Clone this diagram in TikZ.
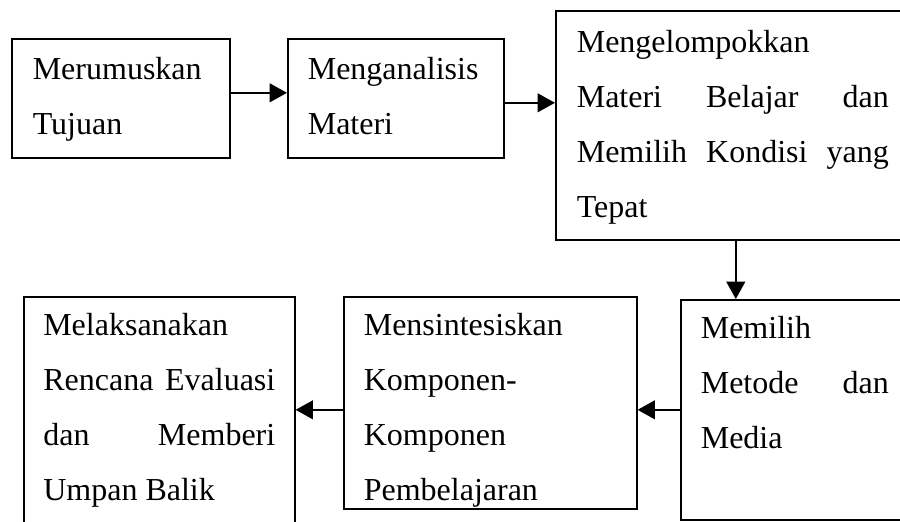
\documentclass[tikz,border=0pt]{standalone}
\usepackage{fontspec}
\setmainfont{Liberation Serif}
\usetikzlibrary{arrows.meta}

\begin{document}
\begin{tikzpicture}[x=0.375pt, y=-0.375pt,
  blok/.style={draw, line width=0.6pt, rectangle, anchor=north west, inner ysep=0pt,
    align=justify, font=\fontsize{12pt}{20.625pt}\selectfont},
  panah/.style={-{Triangle[length=6.5pt,width=7pt]}, line width=0.75pt}]
\useasboundingbox (0,0) rectangle (900,521);
\clip (0,0) rectangle (900,521);

% baris atas
\node[blok, inner xsep=7.875pt, text width=66pt, text height=15.375pt, text depth=29.25pt] (b_1) at (11,38)
  {Merumuskan\\Tujuan};
\node[blok, inner xsep=7.5pt, text width=66pt, text height=15.375pt, text depth=29.25pt] (b_2) at (287,38)
  {Menganalisis\\Materi};
\node[blok, inner xsep=7.875pt, text width=117pt, text height=15.75pt, text depth=70.125pt] (b_3) at (555,10)
  {Mengelompokkan\\Materi Belajar dan\linebreak Memilih Kondisi yang\linebreak Tepat};

% baris bawah
\node[blok, inner xsep=7.5pt, text width=70.5pt, text height=14.625pt, text depth=67.875pt] (b_4) at (680,299)
  {Memilih\\Metode dan\linebreak Media};
\node[blok, inner xsep=7.5pt, text width=94.875pt, text height=14.625pt, text depth=64.875pt] (b_5) at (343,296)
  {Mensintesiskan\\Komponen-\\Komponen\\Pembelajaran};
\node[blok, inner xsep=7.3125pt, text width=87pt, text height=14.625pt, text depth=84.375pt] (b_6) at (23,296)
  {Melaksanakan\\Rencana Evaluasi\linebreak dan Memberi\linebreak Umpan Balik};

% panah
\draw[panah] ([yshift=2.0625pt]b_1.east) -- ([yshift=2.0625pt]b_2.west);
\draw[panah] ([yshift=-1.6875pt]b_2.east) -- ([yshift=-1.6875pt]b_2.east -| b_3.west);
\draw[panah] ([xshift=1.125pt]b_3.south) -- ([xshift=1.125pt]b_3.south |- b_4.north);
\draw[panah] (b_4.west) -- (b_4.west -| b_5.east);
\draw[panah] (b_4.west -| b_5.west) -- (b_4.west -| b_6.east);

\end{tikzpicture}
\end{document}
